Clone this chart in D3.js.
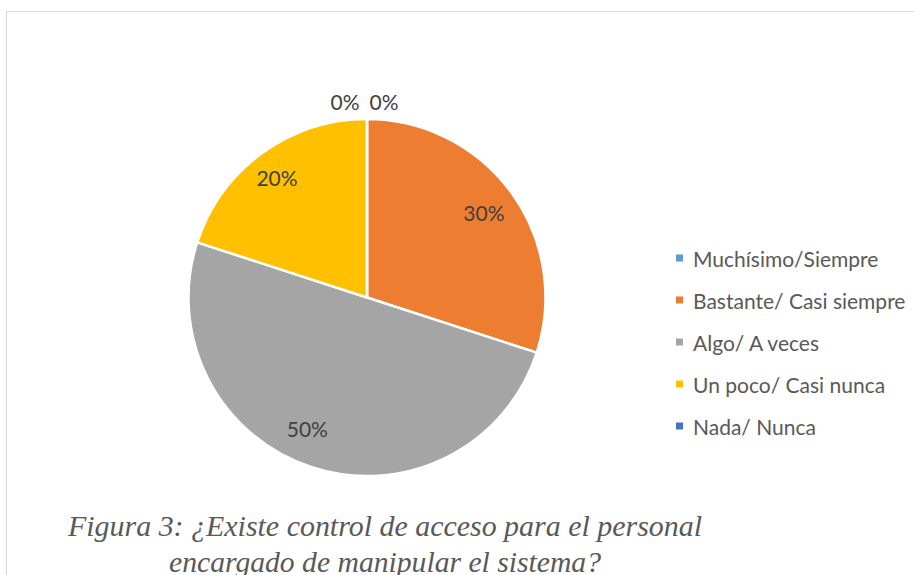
<!DOCTYPE html>
<html>
<head>
<meta charset="utf-8">
<script src="https://cdn.jsdelivr.net/npm/d3@7"></script>
<style>
  body { margin: 0; background: #fff; }
  svg { display: block; }
</style>
</head>
<body>
<div id="chart"></div>
<script>
const categories = ["Muchísimo/Siempre", "Bastante/ Casi siempre", "Algo/ A veces", "Un poco/ Casi nunca", "Nada/ Nunca"];
const values = [0, 30, 50, 20, 0];
const colors = ["#5B9BD5", "#ED7D31", "#A5A5A5", "#FFC000", "#4472C4"];
const titleLines = ["Figura 3: ¿Existe control de acceso para el personal", "encargado de manipular el sistema?"];

const width = 914, height = 575;
const cx = 367, cy = 297.5, radius = 178.5;

const svg = d3.select("#chart")
  .append("svg")
  .attr("width", width)
  .attr("height", height);

// chart frame
svg.append("rect")
  .attr("x", 6.5)
  .attr("y", 11.5)
  .attr("width", 920)
  .attr("height", 600)
  .attr("fill", "none")
  .attr("stroke", "#D9D9D9")
  .attr("stroke-width", 1);

const pie = d3.pie().sort(null).value((d) => d);
const arcs = pie(values);
const arc = d3.arc().innerRadius(0).outerRadius(radius);
const labelArc = d3.arc().innerRadius(radius * 0.81).outerRadius(radius * 0.81);

const g = svg.append("g").attr("transform", `translate(${cx},${cy})`);

g.selectAll("path")
  .data(arcs)
  .enter()
  .append("path")
  .attr("d", arc)
  .attr("fill", (d, i) => colors[i])
  .attr("stroke", "#fff")
  .attr("stroke-width", 2.5)
  .attr("stroke-linejoin", "round");

// excel's best-fit nudges the inside labels a bit
const nudge = { 2: [-15, -7], 3: [-5, -3] };

// labels; zero slices sit just outside the top of the pie
g.selectAll("text")
  .data(arcs)
  .enter()
  .append("text")
  .attr("x", (d, i) => {
    if (d.value === 0) return i === 0 ? 17 : -22;
    return labelArc.centroid(d)[0] + (nudge[i] ? nudge[i][0] : 0);
  })
  .attr("y", (d, i) => {
    if (d.value === 0) return -radius - 2 - 16;
    return labelArc.centroid(d)[1] + (nudge[i] ? nudge[i][1] : 0);
  })
  .attr("text-anchor", "middle")
  .attr("dominant-baseline", "central")
  .attr("font-family", "Lato, 'Open Sans', sans-serif")
  .attr("font-size", 21)
  .attr("fill", "#404040")
  .text((d) => d.value + "%");

// legend
const legend = svg.append("g").attr("transform", "translate(676,258)");
const rows = legend.selectAll("g")
  .data(categories)
  .enter()
  .append("g")
  .attr("transform", (d, i) => `translate(0,${i * 42})`);

rows.append("rect")
  .attr("x", 0)
  .attr("y", -3.5)
  .attr("width", 7)
  .attr("height", 7)
  .attr("fill", (d, i) => colors[i]);

rows.append("text")
  .attr("x", 17)
  .attr("y", 0)
  .attr("dominant-baseline", "central")
  .attr("font-family", "Lato, 'Open Sans', sans-serif")
  .attr("font-size", 21)
  .attr("fill", "#595959")
  .text((d) => d);

// caption, squeezed a little like the original scan
const captionWidths = [634, 432];
svg.selectAll(".caption")
  .data(titleLines)
  .enter()
  .append("text")
  .attr("class", "caption")
  .attr("x", 385)
  .attr("y", (d, i) => 536 + i * 36)
  .attr("text-anchor", "middle")
  .attr("font-family", "'Liberation Serif', 'Times New Roman', serif")
  .attr("font-style", "italic")
  .attr("font-size", 30)
  .attr("textLength", (d, i) => captionWidths[i])
  .attr("lengthAdjust", "spacingAndGlyphs")
  .attr("fill", "#595959")
  .text((d) => d);
</script>
</body>
</html>
